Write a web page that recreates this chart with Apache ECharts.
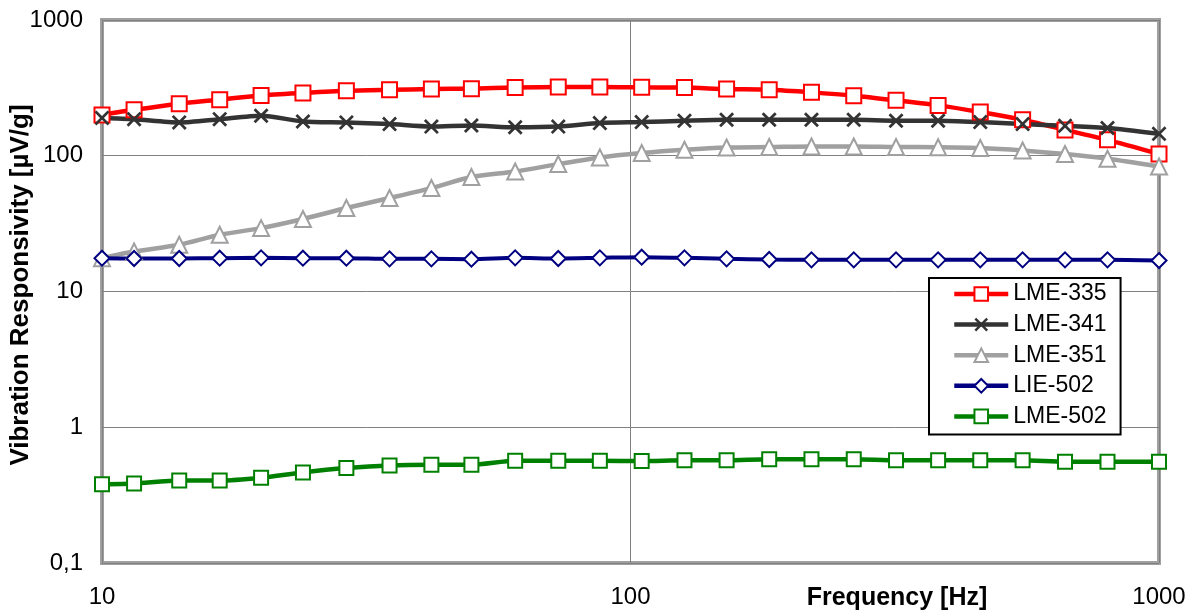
<!DOCTYPE html>
<html>
<head>
<meta charset="utf-8">
<script src="https://cdn.jsdelivr.net/npm/echarts@6/dist/echarts.min.js"></script>
<style>
html,body{margin:0;padding:0;background:#fff;}
#c{width:1194px;height:612px;}
</style>
</head>
<body>
<div id="c"></div>
<script>
// Frequencies [Hz]
const freq = [10, 11.5, 14, 16.7, 20, 24, 29, 35, 42, 50, 60.5, 73, 87.5, 105, 126.5, 152, 183, 220, 264.5, 318, 382, 459, 552, 664, 799, 1000];
// Vibration responsivity [µV/g]
const lme335 = [200, 218, 242, 259, 278, 290, 301, 306, 310, 312, 318, 321, 321, 319, 318, 310, 306, 293, 277, 256, 235, 210, 184, 155, 131, 103];
const lme341 = [190, 186, 176, 186, 197, 179, 176, 171, 164, 167, 162, 164, 174, 177, 181, 184, 184, 184, 184, 181, 181, 177, 171, 166, 160, 145];
const lme351 = [17.6, 19.7, 22.1, 26.2, 29.3, 34.2, 41.2, 48.8, 57.8, 69.7, 76.6, 86.8, 97.2, 104.7, 110.7, 115.1, 115.9, 117.1, 117.1, 116, 115.5, 114, 109.4, 102.9, 95, 83.4];
const lie502 = [17.6, 17.5, 17.5, 17.6, 17.7, 17.6, 17.6, 17.4, 17.4, 17.3, 17.7, 17.5, 17.7, 17.9, 17.7, 17.4, 17.2, 17.1, 17.1, 17.1, 17.1, 17.1, 17.1, 17.1, 17.1, 16.9];
const lme502 = [0.38, 0.385, 0.405, 0.405, 0.425, 0.465, 0.50, 0.523, 0.529, 0.529, 0.566, 0.566, 0.566, 0.563, 0.571, 0.571, 0.582, 0.582, 0.582, 0.571, 0.571, 0.571, 0.571, 0.558, 0.558, 0.558];

const seriesNames = ['LME-335', 'LME-341', 'LME-351', 'LIE-502', 'LME-502'];
const xTickLabels = {10: '10', 100: '100', 1000: '1000'};
const yTickLabels = {'0.1': '0,1', '1': '1', '10': '10', '100': '100', '1000': '1000'};
const xTitle = 'Frequency [Hz]';
const yTitle = 'Vibration Responsivity [µV/g]';

const FONT = 'Liberation Sans, Arial, sans-serif';
const XPATH = 'path://M1.3,0 L5,3.7 L8.7,0 L10,1.3 L6.3,5 L10,8.7 L8.7,10 L5,6.3 L1.3,10 L0,8.7 L3.7,5 L0,1.3 Z';

function pairs(vals) { return freq.map((f, i) => [f, vals[i]]); }

function mk(name, vals, color, symbol, size, fill, border, lw) {
  return {
    name: name,
    type: 'line',
    data: pairs(vals),
    smooth: 0.25,
    symbol: symbol,
    symbolSize: size,
    showAllSymbol: true,
    clip: false,
    lineStyle: {color: color, width: lw},
    itemStyle: {color: fill, borderColor: border, borderWidth: border ? 2 : 0},
    emphasis: {disabled: true}
  };
}

const chart = echarts.init(document.getElementById('c'), null, {renderer: 'canvas'});
chart.setOption({
  animation: false,
  backgroundColor: '#fff',
  grid: {
    left: 102, right: 35, top: 20, bottom: 49,
    show: true, borderColor: '#A0A0A0', borderWidth: 4, backgroundColor: 'transparent'
  },
  xAxis: {
    type: 'log', logBase: 10, min: 10, max: 1000,
    axisLine: {show: false},
    axisTick: {show: false},
    minorTick: {show: false},
    splitLine: {show: true, lineStyle: {color: '#808080', width: 1}},
    axisLabel: {
      fontFamily: FONT, fontSize: 24, color: '#000', margin: 22,
      formatter: v => xTickLabels[Math.round(v)] || ''
    }
  },
  yAxis: {
    type: 'log', logBase: 10, min: 0.1, max: 1000,
    axisLine: {show: false},
    axisTick: {show: false},
    splitLine: {show: true, lineStyle: {color: '#808080', width: 1}},
    axisLabel: {
      fontFamily: FONT, fontSize: 24, color: '#000', margin: 19,
      formatter: v => { const k = String(Number(Number(v).toPrecision(6))); return yTickLabels[k] || ''; }
    }
  },
  legend: {
    orient: 'vertical',
    left: 929, top: 278,
    padding: [4, 14, 6, 23],
    backgroundColor: '#fff',
    borderColor: '#000', borderWidth: 2, borderRadius: 0,
    itemWidth: 54, itemHeight: 17, itemGap: 6.6,
    lineStyle: {width: 4.5},
    textStyle: {fontFamily: FONT, fontSize: 23, color: '#000', lineHeight: 24},
    data: seriesNames
  },
  graphic: [
    {type: 'text', x: 897, y: 598, z: 100,
     style: {text: xTitle, font: 'bold 25px ' + FONT, fill: '#000', textAlign: 'center', textVerticalAlign: 'middle'}},
    {type: 'text', x: 21, y: 285, rotation: Math.PI / 2, z: 100,
     style: {text: yTitle, font: 'bold 26px ' + FONT, fill: '#000', textAlign: 'center', textVerticalAlign: 'middle'}}
  ],
  series: [
    mk(seriesNames[0], lme335, '#FF0000', 'rect', 15, '#FFFFFF', '#FF0000', 4.5),
    mk(seriesNames[1], lme341, '#333333', XPATH, 15, '#333333', null, 4.5),
    mk(seriesNames[2], lme351, '#A0A0A0', 'triangle', 16, '#FFFFFF', '#A0A0A0', 4.5),
    mk(seriesNames[3], lie502, '#000080', 'diamond', 15, '#FFFFFF', '#000080', 4),
    mk(seriesNames[4], lme502, '#008000', 'rect', 14, '#FFFFFF', '#008000', 4.5)
  ]
});
</script>
</body>
</html>
